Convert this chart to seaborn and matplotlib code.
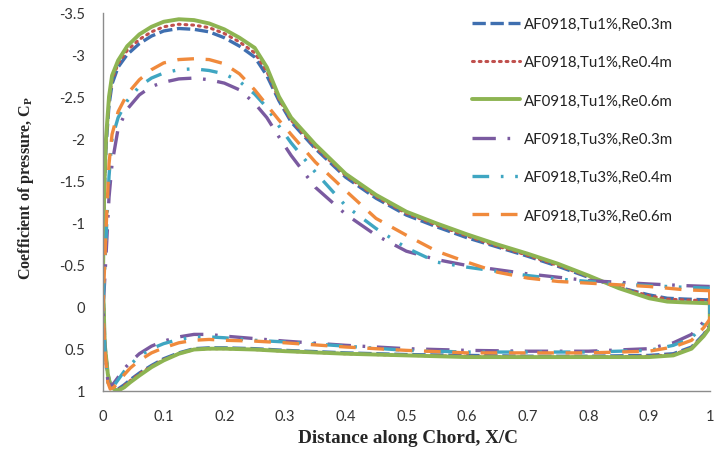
import matplotlib
matplotlib.use("Agg")
import matplotlib.pyplot as plt
import seaborn as sns
import numpy as np
import pandas as pd

# ---------------- data ----------------
# upper (suction) surface, from trailing edge to leading edge
x_upper = [1.0, 0.96, 0.93, 0.9, 0.85, 0.8, 0.75, 0.7, 0.65, 0.6, 0.55, 0.5, 0.45, 0.4,
           0.35, 0.31, 0.29, 0.27, 0.25, 0.225, 0.2, 0.175, 0.15, 0.125, 0.1, 0.08,
           0.06, 0.04, 0.025, 0.015, 0.01, 0.005, 0.002, 0.0]
# lower (pressure) surface, from leading edge to trailing edge
x_lower = [0.003, 0.008, 0.012, 0.018, 0.025, 0.035, 0.045, 0.06, 0.08, 0.1, 0.125, 0.15,
           0.175, 0.2, 0.25, 0.3, 0.4, 0.5, 0.6, 0.7, 0.8, 0.9, 0.94, 0.97, 0.99, 1.0]

cp_tu1_re03_up = [-0.08, -0.09, -0.1, -0.14, -0.23, -0.35, -0.48, -0.6, -0.71, -0.82, -0.95,
                  -1.09, -1.29, -1.54, -1.88, -2.2, -2.45, -2.75, -2.97, -3.1, -3.2, -3.27,
                  -3.3, -3.31, -3.28, -3.22, -3.13, -3.0, -2.85, -2.65, -2.4, -1.9, -1.3, -0.3]
cp_tu1_re04_up = [-0.07, -0.08, -0.09, -0.13, -0.23, -0.36, -0.49, -0.61, -0.72, -0.84, -0.97,
                  -1.11, -1.31, -1.56, -1.9, -2.22, -2.47, -2.8, -3.02, -3.15, -3.25, -3.32,
                  -3.35, -3.36, -3.33, -3.27, -3.18, -3.05, -2.89, -2.7, -2.45, -1.95, -1.35, -0.3]
cp_tu1_re06_up = [-0.04, -0.05, -0.06, -0.1, -0.22, -0.37, -0.51, -0.63, -0.74, -0.86, -0.99,
                  -1.13, -1.33, -1.58, -1.93, -2.25, -2.5, -2.85, -3.08, -3.2, -3.3, -3.37,
                  -3.41, -3.42, -3.39, -3.33, -3.24, -3.1, -2.93, -2.75, -2.5, -2.0, -1.4, -0.3]
cp_tu3_re03_up = [-0.24, -0.25, -0.26, -0.27, -0.29, -0.31, -0.35, -0.39, -0.44, -0.49, -0.56,
                  -0.66, -0.85, -1.1, -1.42, -1.8, -2.02, -2.25, -2.42, -2.58, -2.66, -2.7,
                  -2.72, -2.71, -2.67, -2.62, -2.52, -2.35, -2.12, -1.7, -1.3, -0.6, -0.2, 0.0]
cp_tu3_re04_up = [-0.22, -0.23, -0.24, -0.25, -0.27, -0.3, -0.33, -0.37, -0.42, -0.47, -0.53,
                  -0.7, -0.93, -1.2, -1.6, -1.95, -2.15, -2.37, -2.53, -2.68, -2.77, -2.81,
                  -2.83, -2.82, -2.78, -2.72, -2.62, -2.45, -2.25, -2.0, -1.55, -0.8, -0.3, 0.0]
cp_tu3_re06_up = [-0.19, -0.2, -0.22, -0.24, -0.26, -0.28, -0.3, -0.34, -0.41, -0.53, -0.66,
                  -0.85, -1.05, -1.38, -1.72, -2.05, -2.22, -2.4, -2.58, -2.77, -2.89, -2.94,
                  -2.95, -2.94, -2.9, -2.82, -2.7, -2.53, -2.32, -2.05, -1.7, -0.9, -0.35, 0.0]

cp_tu1_re03_lo = [0.45, 0.8, 0.92, 0.97, 0.98, 0.93, 0.87, 0.79, 0.7, 0.62, 0.55, 0.5,
                  0.49, 0.49, 0.5, 0.52, 0.55, 0.57, 0.58, 0.59, 0.59, 0.58, 0.56, 0.48, 0.33, 0.22]
cp_tu1_re04_lo = [0.45, 0.8, 0.92, 0.97, 0.99, 0.94, 0.88, 0.8, 0.71, 0.63, 0.56, 0.51,
                  0.5, 0.5, 0.51, 0.53, 0.56, 0.58, 0.59, 0.6, 0.6, 0.59, 0.57, 0.49, 0.34, 0.23]
cp_tu1_re06_lo = [0.45, 0.8, 0.93, 0.98, 1.0, 0.96, 0.9, 0.82, 0.72, 0.64, 0.56, 0.51,
                  0.5, 0.5, 0.51, 0.53, 0.56, 0.58, 0.6, 0.6, 0.6, 0.6, 0.58, 0.5, 0.35, 0.25]
cp_tu3_re03_lo = [0.5, 0.88, 0.95, 0.91, 0.84, 0.74, 0.66, 0.56, 0.47, 0.41, 0.36, 0.33,
                  0.33, 0.35, 0.38, 0.41, 0.46, 0.5, 0.52, 0.53, 0.53, 0.5, 0.43, 0.33, 0.18, 0.1]
cp_tu3_re04_lo = [0.5, 0.9, 0.97, 0.94, 0.87, 0.77, 0.69, 0.59, 0.5, 0.44, 0.39, 0.36,
                  0.36, 0.37, 0.4, 0.42, 0.47, 0.52, 0.54, 0.54, 0.54, 0.52, 0.46, 0.37, 0.22, 0.12]
cp_tu3_re06_lo = [0.5, 0.9, 0.98, 0.96, 0.9, 0.81, 0.73, 0.64, 0.55, 0.49, 0.43, 0.4,
                  0.39, 0.4, 0.41, 0.43, 0.48, 0.52, 0.55, 0.55, 0.55, 0.53, 0.48, 0.4, 0.25, 0.15]

labels = ["AF0918,Tu1%,Re0.3m", "AF0918,Tu1%,Re0.4m", "AF0918,Tu1%,Re0.6m",
          "AF0918,Tu3%,Re0.3m", "AF0918,Tu3%,Re0.4m", "AF0918,Tu3%,Re0.6m"]
uppers = [cp_tu1_re03_up, cp_tu1_re04_up, cp_tu1_re06_up,
          cp_tu3_re03_up, cp_tu3_re04_up, cp_tu3_re06_up]
lowers = [cp_tu1_re03_lo, cp_tu1_re04_lo, cp_tu1_re06_lo,
          cp_tu3_re03_lo, cp_tu3_re04_lo, cp_tu3_re06_lo]

colors = ["#3F6FB0", "#C0504D", "#8DB452", "#7A5AA0", "#3FA6C2", "#F08A3C"]
dash_styles = [(4, 1.4), (0.6, 1.6), None, (7, 3.5, 0.8, 3.5), (5, 3.5, 0.8, 3.5, 0.8, 3.5), (5, 3.5)]
widths = [2.4, 2.2, 2.8, 2.4, 2.4, 2.4]

# ---------------- figure ----------------
sns.set_style("white")
fig = plt.figure(figsize=(7.25, 4.52), dpi=100)
ax = fig.add_axes([0.142, 0.1334, 0.837, 0.8367])

for lab, up, lo, c, d, w in zip(labels, uppers, lowers, colors, dash_styles, widths):
    xs = list(x_upper) + list(x_lower) + [x_upper[0]]
    ys = list(up) + list(lo) + [up[0]]
    df = pd.DataFrame({"x": xs, "cp": ys})
    sns.lineplot(data=df, x="x", y="cp", sort=False, estimator=None, color=c,
                 linewidth=w, label=lab, ax=ax)
    line = ax.lines[-1]
    if d is not None:
        line.set_dashes(d)
    if d == (0.6, 1.6):
        line.set_dash_capstyle("round")

ax.set_xlim(0, 1)
ax.set_ylim(1, -3.5)
ax.set_xticks(np.arange(0, 1.01, 0.1))
ax.set_xticklabels(["0", "0.1", "0.2", "0.3", "0.4", "0.5", "0.6", "0.7", "0.8", "0.9", "1"])
ax.set_yticks([-3.5, -3, -2.5, -2, -1.5, -1, -0.5, 0, 0.5, 1])
ax.set_yticklabels(["-3.5", "-3", "-2.5", "-2", "-1.5", "-1", "-0.5", "0", "0.5", "1"])

for s in ["top", "right"]:
    ax.spines[s].set_visible(False)
for s in ["left", "bottom"]:
    ax.spines[s].set_color("#8c8c8c")
    ax.spines[s].set_linewidth(1.0)
ax.tick_params(axis="both", direction="out", length=5, width=1, color="#8c8c8c",
               labelsize=10.5, labelcolor="#333333", pad=8)
for t in ax.get_xticklabels() + ax.get_yticklabels():
    t.set_family("Lato")

ax.set_xlabel("Distance along Chord, X/C", family="Liberation Serif", fontweight="bold",
              fontsize=13.8)
ax.xaxis.set_label_coords(0.503, -0.102)
ax.set_ylabel("Coefficient of pressure, C$_\\mathregular{P}$", family="Liberation Serif",
              fontweight="bold", fontsize=11.6)
ax.yaxis.set_label_coords(-0.11, 0.539)

leg = ax.legend(loc="upper left", bbox_to_anchor=(0.632, 0.99), bbox_transform=fig.transFigure,
                frameon=False, labelspacing=1.62, handlelength=3.2,
                handletextpad=0.3, prop={"family": "Lato", "size": 10.8})
for txt in leg.get_texts():
    txt.set_color("#222222")

fig.savefig("out.png", dpi=100)
